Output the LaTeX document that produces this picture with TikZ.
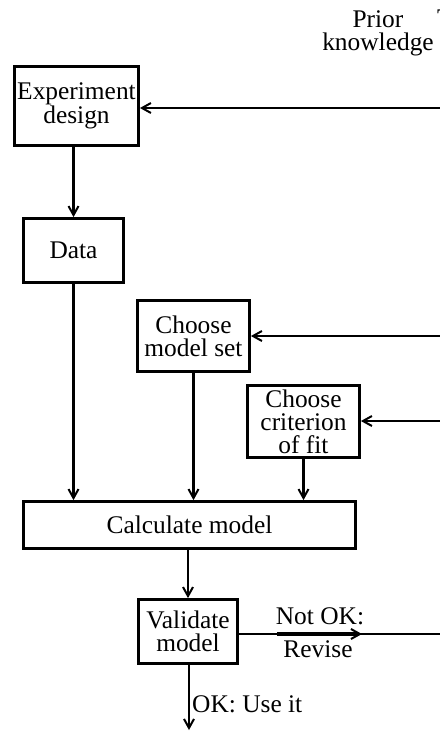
\documentclass[tikz,border=0pt]{standalone}
\usepackage{fontspec}
\setmainfont{Liberation Serif}
\usetikzlibrary{arrows.meta}
\begin{document}
\begin{tikzpicture}[x=1bp,y=-1bp,
  box/.style={draw, line width=2.8bp, inner sep=0pt, align=center, font=\fontsize{25.5}{23}\selectfont},
  conn/.style={line width=2.2bp, -{Straight Barb[length=9bp,width=10bp,line width=2bp]}},
  lbl/.style={inner sep=0pt, align=center, font=\fontsize{25.5}{23}\selectfont}]
\useasboundingbox (0,0) rectangle (440,731);
\fill[white] (0,0) rectangle (440,731);
% boxes
\node[box, minimum width=124bp, minimum height=79bp] (exp) at (76.5,106) {Experiment\\design};
\node[box, minimum width=100bp, minimum height=64bp] (data) at (73.5,250.5) {Data};
\node[box, minimum width=112bp, minimum height=71bp] (ms) at (193.5,336) {Choose\\model set};
\node[box, minimum width=112bp, minimum height=72bp] (cf) at (303.5,421.5) {Choose\\criterion\\of fit};
\node[box, minimum width=332bp, minimum height=47bp] (calc) at (189.5,525) {Calculate model};
\node[box, minimum width=99bp, minimum height=64bp] (val) at (188,631.5) {Validate\\model};
% labels
\node[lbl] (pk) at (378,33) {Prior\\knowledge};
\node[lbl, anchor=base west] (cut) at (437,27) {T};
\node[lbl, anchor=base] (notok) at (320,624) {Not OK:};
\node[lbl, anchor=base] (revise) at (318,657) {Revise};
\node[lbl, anchor=base west] (okuse) at (192,712) {OK: Use it};
% coordinates
\coordinate (pk1) at (441,108);
\coordinate (pk2) at (441,336);
\coordinate (pk3) at (441,421);
\coordinate (revend) at (441,634);
\coordinate (mida) at (277,634);
\coordinate (midb) at (362,634);
\coordinate (okend) at (189,730);
% connectors
\draw[conn] (exp.south -| data.north) -- (data.north);
\draw[conn] (data.south) -- (data.south |- calc.north);
\draw[conn] (ms.south) -- (ms.south |- calc.north);
\draw[conn] (cf.south) -- (cf.south |- calc.north);
\draw[conn] (calc.south -| val.north) -- (val.north);
\draw[conn] (pk1) -- (exp.east |- pk1);
\draw[conn] (pk2) -- (ms.east |- pk2);
\draw[conn] (pk3) -- (cf.east |- pk3);
\draw[line width=2.2bp] (val.east |- revend) -- (revend);
\draw[conn, line width=3.2bp] (mida) -- (midb);
\draw[conn] (val.south -| okend) -- (okend);
\end{tikzpicture}
\end{document}
